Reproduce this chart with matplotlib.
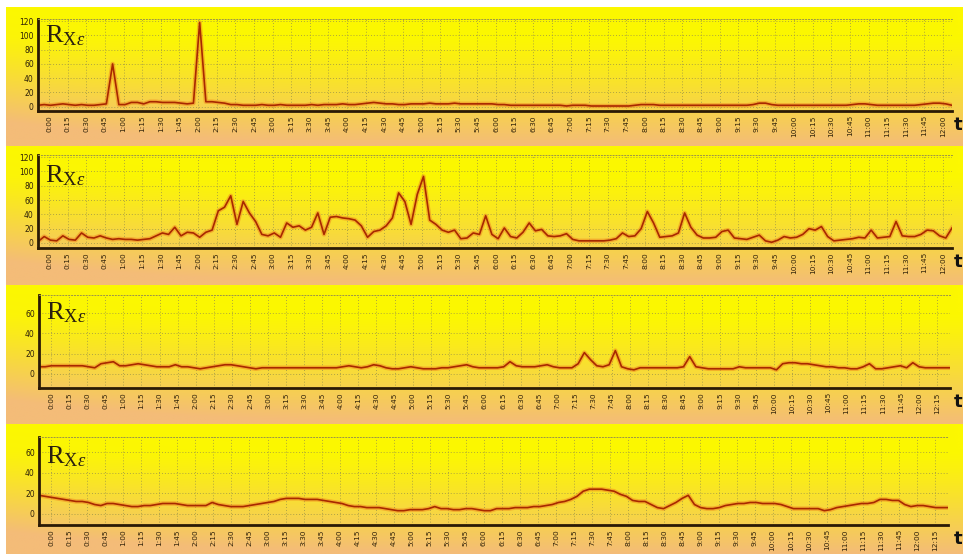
import numpy as np
import matplotlib
matplotlib.use("Agg")
import matplotlib.pyplot as plt
from matplotlib.colors import to_rgb

# Rx-epsilon readings, one value every ~5 min along each panel
rx1 = [2, 3, 2, 3, 4, 3, 2, 3, 2, 2, 3,
       4, 60, 3,
       3, 6, 6, 4, 7, 7, 6, 6, 6, 5, 4, 5, 118, 7, 7, 6, 5,
       3, 3, 2, 2, 2, 3, 2, 2, 3, 2,
       2, 2, 2, 3, 2, 3, 3, 3, 4, 3, 3, 4, 5,
       6, 5, 4, 4, 3, 3, 4,
       4, 4, 5, 4, 4, 4, 5, 4, 4, 4, 4, 4, 4, 3, 3,
       2, 2, 2, 2, 2, 2, 2, 2, 2, 1, 2, 2, 2,
       1, 1, 1, 1, 1, 1, 1,
       2, 3, 3, 3, 2,
       2, 2, 2, 2, 2, 2, 2, 2, 2, 2, 2, 2, 2, 2, 3,
       5, 5, 3,
       2, 2, 2, 2, 2, 2, 2, 2, 2, 2, 2, 2,
       3, 4, 4, 3,
       2, 2, 2, 2, 2, 2, 2,
       3, 4, 5, 5, 4, 2]

rx2 = [2, 9, 4, 3, 10, 5, 4, 14, 8, 7,
       10, 7, 5, 6, 5, 5, 4, 5, 6, 10,
       14, 12, 22, 10, 15, 14, 8, 15, 18, 45,
       50, 66, 26, 58, 42, 30, 12, 10, 14, 8,
       28, 22, 24, 18, 22, 42, 12, 36, 37, 35,
       34, 32, 24, 8, 16, 18, 24, 35, 70, 58,
       26, 68, 93, 32, 26, 18, 15, 18, 6, 7,
       14, 12, 38, 12, 6, 21, 9, 7, 15, 28,
       17, 19, 10, 9, 10, 13, 5, 3, 3, 3,
       3, 3, 4, 6, 14, 9, 10, 20, 44, 28,
       8, 9, 10, 14, 42, 22, 11, 7, 7, 8,
       16, 18, 7, 6, 5, 8, 11, 3, 1, 4,
       9, 7, 8, 12, 20, 18, 23, 9, 3, 4,
       5, 6, 8, 7, 18, 7, 8, 9, 30, 10,
       9, 9, 12, 18, 17, 10, 7, 21]

rx3 = [7, 7, 8, 8, 8, 8, 8, 8, 7, 6,
       10, 11, 12, 8, 8, 9, 10, 9, 8, 7,
       7, 7, 9, 7, 7, 6, 5, 6, 7, 8,
       9, 9, 8, 7, 6, 5, 6, 6, 6, 6,
       6, 6, 6, 6, 6, 6, 6, 6, 6, 7,
       8, 7, 6, 7, 9, 8, 6, 5, 5, 6,
       7, 6, 5, 5, 5, 6, 6, 7, 8, 9,
       7, 6, 6, 6, 6, 7, 12, 8, 7, 7,
       7, 8, 9, 7, 6, 6, 6, 10, 21, 14,
       8, 7, 9, 23, 7, 5, 4, 6, 6, 6,
       6, 6, 6, 6, 7, 17, 7, 6, 5, 5,
       5, 5, 5, 7, 6, 6, 6, 6, 6, 4,
       10, 11, 11, 10, 10, 9, 8, 7, 7, 6,
       6, 5, 5, 7, 10, 5, 5, 6, 7, 8,
       6, 11, 7, 6, 6, 6, 6, 6]

rx4 = [18, 17, 16, 15, 14, 13, 12, 12, 11, 9,
       8, 10, 10, 9, 8, 7, 7, 8, 8, 9,
       10, 10, 10, 9, 8, 8, 8, 8, 11, 9,
       8, 7, 7, 7, 8, 9, 10, 11, 12, 14,
       15, 15, 15, 14, 14, 14, 13, 12, 11, 10,
       8, 7, 7, 6, 6, 6, 5, 4, 3, 3,
       4, 4, 4, 5, 7, 5, 5, 4, 4, 5,
       5, 4, 3, 3, 5, 5, 5, 6, 6, 6,
       7, 7, 8, 9, 11, 12, 14, 17, 22, 24,
       24, 24, 23, 22, 19, 17, 13, 12, 12, 9,
       6, 5, 8, 11, 15, 18, 9, 6, 5, 5,
       6, 8, 9, 10, 10, 11, 11, 10, 10, 10,
       9, 7, 5, 5, 5, 5, 5, 3, 4, 6,
       7, 8, 9, 10, 10, 11, 14, 14, 13, 13,
       9, 7, 8, 8, 7, 6, 6, 6]

# time ticks in minutes
ticks_12h = list(range(0, 721, 15))
ticks_12h15 = list(range(0, 736, 15))
yticks_120 = [0, 20, 40, 60, 80, 100, 120]
yticks_60 = [0, 20, 40, 60]


def hhmm(m):
    return f"{m // 60}:{m % 60:02d}"


W, H = 963, 554
fig = plt.figure(figsize=(W / 100, H / 100), dpi=100, facecolor="white")

# background bands: yellow on top fading to peach/orange at the bottom
bg = fig.add_axes([0, 0, 1, 1])
bg.axis("off")
top_c = np.array(to_rgb("#fcf800"))
bot_c = np.array(to_rgb("#f4bc78"))
bands = [(7, 146), (146, 285), (285, 424), (424, 554)]
for y0, y1 in bands:
    v = np.linspace(0, 1, 120)[:, None]
    u = np.linspace(0, 1, 300)[None, :]
    f = np.clip((v - 0.2) / 0.8, 0, 1) ** 1.2 + 0.3 * (1 - u) ** 6 * v
    f = np.clip(f, 0, 1)
    img = top_c[None, None, :] * (1 - f[..., None]) + bot_c[None, None, :] * f[..., None]
    bg.imshow(img, extent=(6, W, y1, y0), aspect="auto", interpolation="bilinear")
bg.set_xlim(0, W)
bg.set_ylim(H, 0)

# (values, pixel box left, right, top, bottom, xlim, ylim, xticks, yticks, label baseline)
panels = [
    (rx1, 38, 952, 19, 111, (-8.9, 727.2), (-6, 123), ticks_12h, yticks_120, 0.75),
    (rx2, 38, 952, 155, 248, (-8.9, 727.2), (-7, 123), ticks_12h, yticks_120, 0.71),
    (rx3, 39, 950, 295, 388, (-10, 745.8), (-14, 78), ticks_12h15, yticks_60, 0.74),
    (rx4, 39, 948, 437, 525, (-10, 745.8), (-11, 75), ticks_12h15, yticks_60, 0.70),
]

plt.rcParams["mathtext.fontset"] = "custom"
plt.rcParams["mathtext.rm"] = "Liberation Serif"
plt.rcParams["mathtext.it"] = "Liberation Serif:italic"

axis_col = "#2a1a05"
text_col = "#2e2008"
grid_col = "#9c9448"

for vals, xl, xr, yt, yb, xlim, ylim, xt, yt_ticks, lab_y in panels:
    ax = fig.add_axes([xl / W, 1 - yb / H, (xr - xl) / W, (yb - yt) / H])
    ax.set_facecolor("none")
    x = np.linspace(xlim[0], xlim[1], len(vals))
    ax.plot(x, vals, color="#f08a20", lw=3.2, alpha=0.55, solid_joinstyle="round")
    ax.plot(x, vals, color="#a82800", lw=1.2, solid_joinstyle="round")
    ax.set_xlim(*xlim)
    ax.set_ylim(*ylim)
    ax.set_xticks(xt, [hhmm(m) for m in xt], rotation=90, fontsize=5.3, color=text_col)
    ax.set_yticks(yt_ticks, [str(t) for t in yt_ticks], fontsize=5.5, color=text_col)
    ax.tick_params(length=0, pad=3)
    ax.grid(True, color=grid_col, lw=0.7, linestyle=(0, (1, 2)), alpha=0.8)
    ax.spines["right"].set_visible(False)
    ax.spines["top"].set_color(grid_col)
    ax.spines["top"].set_linestyle((0, (1, 2)))
    ax.spines["top"].set_linewidth(0.7)
    for side in ("left", "bottom"):
        ax.spines[side].set_color(axis_col)
        ax.spines[side].set_linewidth(2)
    ax.text(0.008, lab_y, r"$\mathrm{R}_{\mathrm{X}\varepsilon}$", transform=ax.transAxes,
            fontsize=19, color="#2a2010", va="baseline", ha="left")
    fig.text(958 / W, 1 - (yb + 14) / H, "t", fontsize=13, fontweight="bold",
             color="#111111", ha="center", va="center", family="DejaVu Sans")

fig.savefig("out.png", dpi=100, facecolor="white")
